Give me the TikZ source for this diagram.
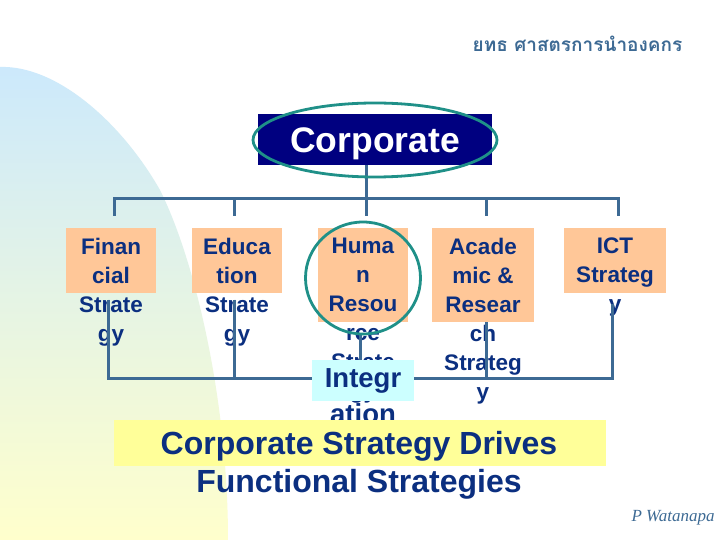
\documentclass[tikz,border=0pt]{standalone}
\usepackage{fontspec}
\setmainfont{Liberation Sans}
\newfontfamily\thaifont[Script=Thai]{Loma}
\newfontfamily\signfont{Liberation Serif}
\definecolor{railc}{HTML}{3D6A94}
\definecolor{navyt}{HTML}{0B2F80}
\definecolor{navyb}{HTML}{000080}
\definecolor{peach}{HTML}{FFC798}
\definecolor{tealc}{HTML}{1F9088}
\definecolor{paley}{HTML}{FFFF99}
\definecolor{palec}{HTML}{CCFFFF}
\definecolor{gradtop}{HTML}{CCE9FC}
\definecolor{gradmid}{HTML}{E4F3E2}
\definecolor{gradbot}{HTML}{FFFFCC}
\tikzset{
  rail/.style={draw=railc,line width=3pt,line join=miter},
  orangebox/.style={fill=peach,inner sep=0pt,minimum height=#1},
  fnlabel/.style={text=navyt,anchor=north,align=center,inner sep=0pt,font=\fontsize{22.5}{29}\selectfont\bfseries},
  ring/.style={draw=tealc,line width=2.8pt}
}
\begin{document}
\begin{tikzpicture}[x=1pt,y=-1pt]
\useasboundingbox (0,0) rectangle (720,540);
\fill[white] (0,0) rectangle (720,540);
\shade[top color=gradtop,middle color=gradmid,bottom color=gradbot]
  (0,67) .. controls (55,65) and (120,120) .. (160,190)
  .. controls (195,260) and (228,400) .. (228,540) -- (0,540) -- cycle;
% rail and stubs
\node[inner sep=0pt,minimum width=234pt,minimum height=51pt,fill=navyb] (corp) at (375,139.5) {};
\coordinate (tl) at (114,199); \coordinate (tr) at (618,199);
\coordinate (t1) at (114,216); \coordinate (t2) at (234,216);
\coordinate (t3) at (366,216); \coordinate (t4) at (486,216);
\coordinate (t5) at (618,216); \coordinate (tj) at (366,165);
\draw[rail] (t1) -- (tl) -- (tr) -- (t5);
\draw[rail] (tj) -- (t3);
\draw[rail] (t2) -- (t2 |- tl);
\draw[rail] (t4) -- (t4 |- tl);
% boxes
\node[orangebox=65pt,minimum width=90pt] (fb) at (111,260.5) {};
\node[orangebox=65pt,minimum width=90pt] (eb) at (237,260.5) {};
\node[orangebox=94pt,minimum width=90pt] (hb) at (363,275) {};
\node[orangebox=94pt,minimum width=102pt] (ab) at (483,275) {};
\node[orangebox=65pt,minimum width=102pt] (ib) at (615,260.5) {};
% labels
\node[fnlabel] (ft) at (111,238) {Finan\\cial\\Strate\\gy};
\node[fnlabel] (et) at (237,238) {Educa\\tion\\Strate\\gy};
\node[fnlabel] (ht) at (363,238) {Huma\\n\\Resou\\rce\\Strate\\gy};
\node[fnlabel] (at) at (483,238) {Acade\\mic \&\\Resear\\ch\\Strateg\\y};
\node[fnlabel] (it) at (615,238) {ICT\\Strateg\\y};
% lower rail
\coordinate (b1) at (108,300); \coordinate (b2) at (234,300);
\coordinate (b3) at (360,335); \coordinate (b4) at (486,322);
\coordinate (b5) at (612,304);
\coordinate (bl) at (108,378); \coordinate (br) at (612,378);
\draw[rail] (b1) -- (bl) -- (br) -- (b5);
\draw[rail] (b2) -- (b2 |- bl);
\draw[rail] (b3) -- (b3 |- bl);
\draw[rail] (b4) -- (b4 |- bl);
% integration
\node[text=navyt,anchor=north,align=center,inner sep=0pt,font=\fontsize{27.5}{36}\selectfont\bfseries] (intt) at (363,368) {\phantom{Integr}\\ation};
\node[fill=palec,inner sep=0pt,minimum width=102pt,minimum height=41pt,text=navyt,font=\fontsize{27.5}{36}\selectfont\bfseries] (intb) at (363,380.5) {Integr};
% ring and ellipse
\draw[ring] (363,278) ellipse (57.5pt and 56pt);
\node[text=white,font=\fontsize{35.5}{40}\selectfont\bfseries,inner sep=0pt] (corpt) at (375,144) {Corporate};
\draw[ring] (375,140) ellipse (122pt and 37pt);
% bottom message
\node[fill=paley,inner sep=0pt,minimum width=492pt,minimum height=46pt] (msg) at (360,443) {};
\node[text=navyt,align=center,inner sep=0pt,anchor=north,font=\fontsize{32}{38}\selectfont\bfseries] (msgt) at (359,431) {Corporate Strategy Drives\\Functional Strategies};
% title and signature
\node[text=railc,inner sep=0pt,font=\fontsize{19}{22}\selectfont\thaifont\bfseries] (title) at (577.5,44) {ยทธ ศาสตรการนำองคกร};
\node[text=railc,inner sep=0pt,font=\fontsize{17}{19}\selectfont\signfont\itshape] (sign) at (673,518) {P Watanapa};
\end{tikzpicture}
\end{document}
